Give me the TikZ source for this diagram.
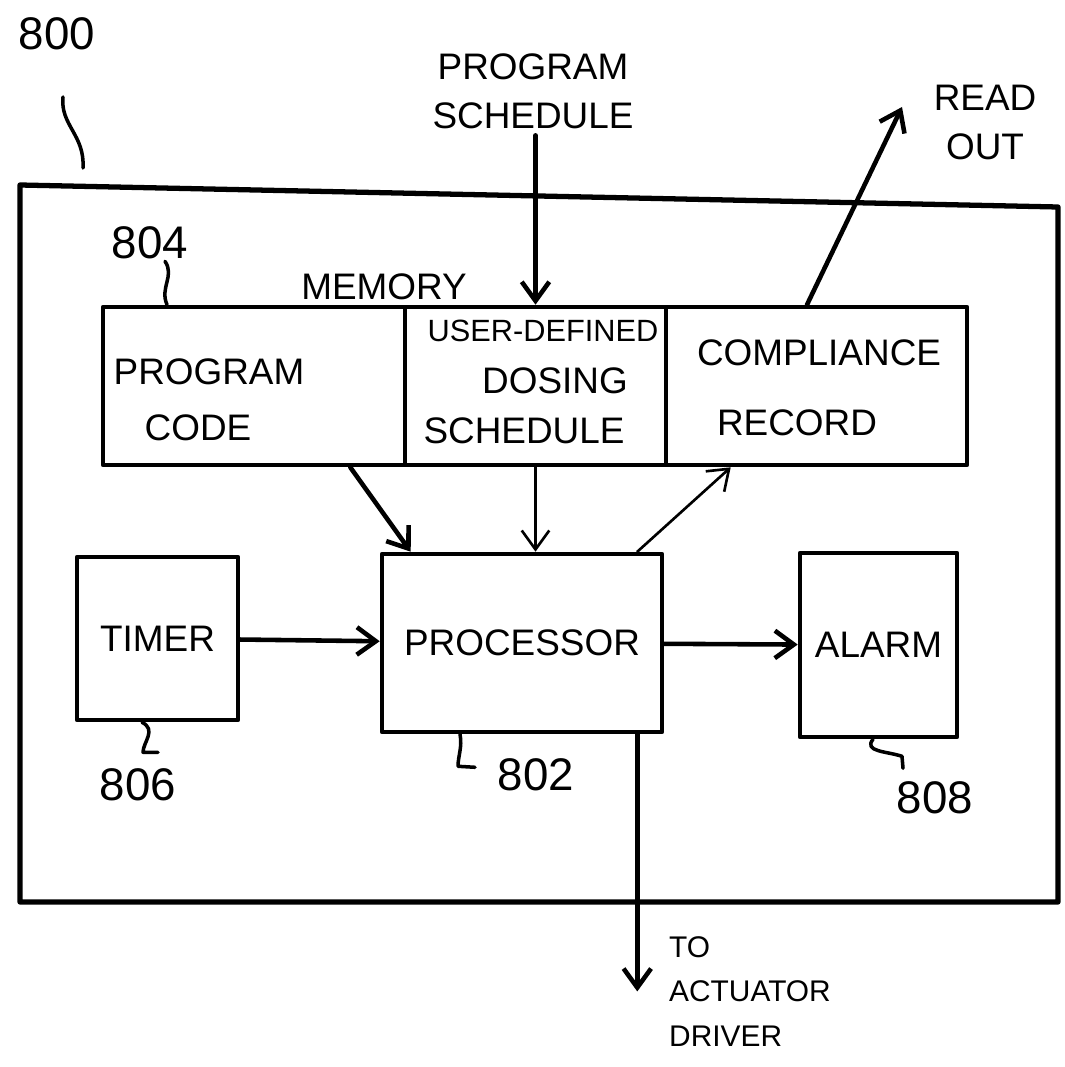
\documentclass[tikz,border=0pt]{standalone}
\usepackage{fontspec}
\setmainfont{Liberation Sans}
\usetikzlibrary{arrows.meta}

\begin{document}
\begin{tikzpicture}[line cap=round,line join=round,
  >={Straight Barb[length=0.38cm,width=0.55cm]},
  txt/.style={font=\fontsize{21}{28}\selectfont},
  num/.style={font=\fontsize{26}{30}\selectfont,inner sep=1pt},
  blk/.style={draw,line width=2.6pt,txt,inner sep=0pt},
  lead/.style={line width=2pt},
  wire/.style={->,line width=2.6pt},
  thinwire/.style={->,line width=1.5pt}]
  \useasboundingbox (0,0) rectangle (21.28,-21.34);

  \draw[line width=3pt] (0.4,-3.7) -- (21.16,-4.14) -- (21.16,-18.04) -- (0.4,-18.04) -- cycle;
  \node[num] (n800) at (1.14,-0.68) {800};
  \draw[lead] (1.26,-1.94) .. controls (1.2,-2.5) and (1.7,-2.7) .. (1.66,-3.36);

  \node[blk,minimum width=6.04cm,minimum height=3.16cm] (pcode) at (5.08,-7.72) {};
  \node[blk,minimum width=5.22cm,minimum height=3.16cm] (udef) at (10.71,-7.72) {};
  \node[blk,minimum width=6.02cm,minimum height=3.16cm] (crec) at (16.33,-7.72) {};
  \node[txt] (memlbl) at (7.68,-5.74) {MEMORY};
  \node[txt] (pc1) at (4.18,-7.44) {PROGRAM};
  \node[txt] (pc2) at (3.96,-8.56) {CODE};
  \node[txt,font=\fontsize{17.5}{22}\selectfont] (ud1) at (10.86,-6.62) {USER-DEFINED};
  \node[txt] (ud2) at (11.1,-7.62) {DOSING};
  \node[txt] (ud3) at (10.48,-8.62) {SCHEDULE};
  \node[txt] (cr1) at (16.38,-7.06) {COMPLIANCE};
  \node[txt] (cr2) at (15.94,-8.46) {RECORD};
  \node[num] (n804) at (3.0,-4.86) {804};
  \draw[lead] ([xshift=0.3cm]n804.south) .. controls +(0.2,-0.3) and +(-0.15,0.35) .. ([xshift=-1.74cm]pcode.north);

  \node[txt,align=center] (psched) at (10.66,-1.83) {PROGRAM\\SCHEDULE};
  \draw[wire] (psched.south -| udef.north) -- (udef.north);
  \node[txt,align=center] (rdout) at (19.7,-2.45) {READ\\OUT};
  \coordinate (rdtip) at (18.04,-2.14);
  \draw[wire] ([xshift=-0.19cm]crec.north) -- (rdtip);

  \node[blk,minimum width=3.22cm,minimum height=3.26cm] (timer) at (3.15,-12.77) {TIMER};
  \node[blk,minimum width=5.6cm,minimum height=3.56cm] (proc) at (10.44,-12.86) {PROCESSOR};
  \node[blk,minimum width=3.14cm,minimum height=3.68cm] (alarm) at (17.57,-12.9) {ALARM};
  \draw[wire] (timer) -- (proc);
  \draw[wire] (proc) -- (alarm);
  \draw[wire] ([xshift=-1.14cm]pcode.south east) -- ([xshift=0.62cm]proc.north west);
  \draw[thinwire] (udef.south) -- (udef.south |- proc.north);
  \draw[thinwire] ([xshift=-0.54cm]proc.north east) -- ([xshift=1.34cm]crec.south west);

  \node[num] (n806) at (2.76,-15.7) {806};
  \draw[lead] ([xshift=-0.31cm]timer.south) .. controls +(0.3,-0.15) and +(0,0.2) .. ++(0.02,-0.6) -- ++(0.3,0);
  \node[num] (n802) at (10.72,-15.5) {802};
  \draw[lead] ([xshift=-1.24cm]proc.south) .. controls +(0.05,-0.25) and +(0,0.2) .. ++(-0.04,-0.64) -- ++(0.34,-0.02);
  \node[num] (n808) at (18.7,-15.96) {808};
  \draw[lead] ([xshift=-0.11cm]alarm.south) .. controls +(-0.2,-0.25) and +(-0.3,0.1) .. ++(0.58,-0.34) -- ++(0.02,-0.24);

  \node[txt,font=\fontsize{17}{25.5}\selectfont,align=left,anchor=north west] (act) at (13.26,-18.6)
    {TO\\ACTUATOR\\DRIVER};
  \coordinate (pout) at ([xshift=-0.54cm]proc.south east);
  \draw[wire] (pout) -- (pout |- act.west);
\end{tikzpicture}
\end{document}
